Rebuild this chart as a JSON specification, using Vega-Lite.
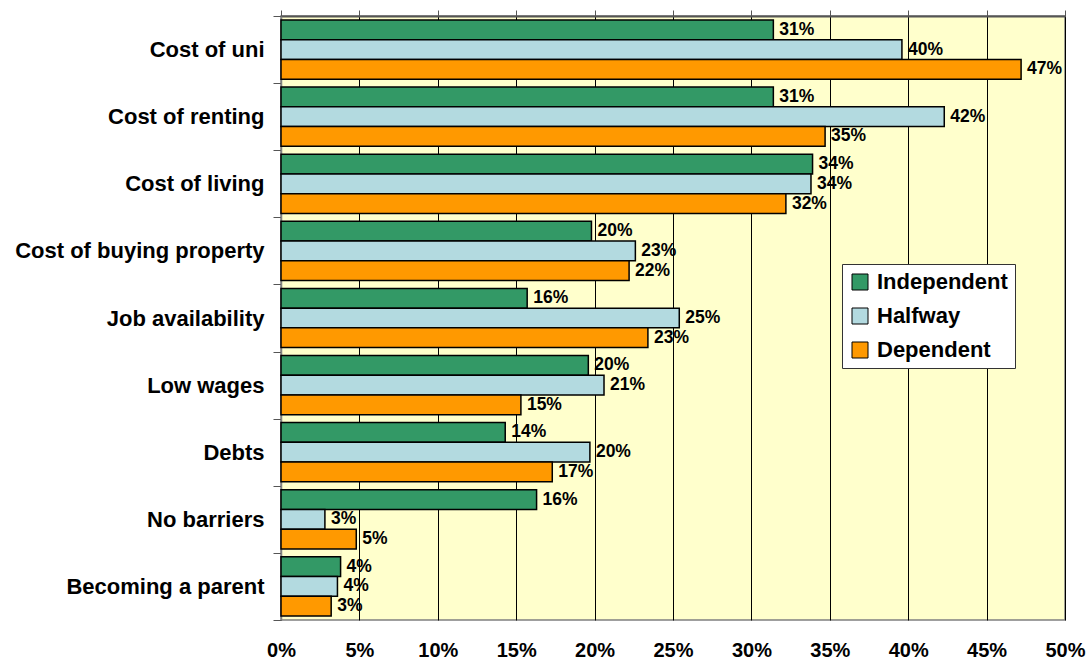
{
  "$schema": "https://vega.github.io/schema/vega-lite/v6.json",
  "width": 784,
  "height": 604,
  "autosize": {"type": "none"},
  "padding": {"left": 281, "top": 16, "right": 25, "bottom": 43},
  "background": "white",
  "config": {
    "view": {"fill": "#FFFFCC", "stroke": "#808080", "strokeWidth": 1.5},
    "font": "Liberation Sans"
  },
  "data": {
    "values": [
      {"barrier": "Cost of uni", "group": "Independent", "value": 0.314},
      {"barrier": "Cost of uni", "group": "Halfway", "value": 0.396},
      {"barrier": "Cost of uni", "group": "Dependent", "value": 0.472},
      {"barrier": "Cost of renting", "group": "Independent", "value": 0.314},
      {"barrier": "Cost of renting", "group": "Halfway", "value": 0.423},
      {"barrier": "Cost of renting", "group": "Dependent", "value": 0.347},
      {"barrier": "Cost of living", "group": "Independent", "value": 0.339},
      {"barrier": "Cost of living", "group": "Halfway", "value": 0.338},
      {"barrier": "Cost of living", "group": "Dependent", "value": 0.322},
      {"barrier": "Cost of buying property", "group": "Independent", "value": 0.198},
      {"barrier": "Cost of buying property", "group": "Halfway", "value": 0.226},
      {"barrier": "Cost of buying property", "group": "Dependent", "value": 0.222},
      {"barrier": "Job availability", "group": "Independent", "value": 0.157},
      {"barrier": "Job availability", "group": "Halfway", "value": 0.254},
      {"barrier": "Job availability", "group": "Dependent", "value": 0.234},
      {"barrier": "Low wages", "group": "Independent", "value": 0.196},
      {"barrier": "Low wages", "group": "Halfway", "value": 0.206},
      {"barrier": "Low wages", "group": "Dependent", "value": 0.153},
      {"barrier": "Debts", "group": "Independent", "value": 0.143},
      {"barrier": "Debts", "group": "Halfway", "value": 0.197},
      {"barrier": "Debts", "group": "Dependent", "value": 0.173},
      {"barrier": "No barriers", "group": "Independent", "value": 0.163},
      {"barrier": "No barriers", "group": "Halfway", "value": 0.028},
      {"barrier": "No barriers", "group": "Dependent", "value": 0.048},
      {"barrier": "Becoming a parent", "group": "Independent", "value": 0.038},
      {"barrier": "Becoming a parent", "group": "Halfway", "value": 0.036},
      {"barrier": "Becoming a parent", "group": "Dependent", "value": 0.032}
    ]
  },
  "encoding": {
    "y": {
      "field": "barrier",
      "type": "nominal",
      "sort": ["Cost of uni", "Cost of renting", "Cost of living", "Cost of buying property", "Job availability", "Low wages", "Debts", "No barriers", "Becoming a parent"],
      "scale": {"paddingInner": 0, "paddingOuter": 0},
      "axis": {
        "title": null,
        "tickBand": "extent",
        "tickSize": 8,
        "tickColor": "#555555",
        "domainColor": "#808080",
        "domainWidth": 1.5,
        "labelFontSize": 22,
        "labelFontWeight": "bold",
        "labelColor": "black",
        "labelPadding": 9,
        "labelLimit": 300
      }
    },
    "yOffset": {
      "field": "group",
      "type": "nominal",
      "sort": ["Independent", "Halfway", "Dependent"],
      "scale": {"paddingInner": 0, "paddingOuter": 0.2}
    },
    "x": {
      "field": "value",
      "type": "quantitative",
      "scale": {"domain": [0, 0.5], "nice": false}
    }
  },
  "layer": [
    {
      "mark": {"type": "bar", "stroke": "black", "strokeWidth": 1.5},
      "encoding": {
        "x": {
          "field": "value",
          "type": "quantitative",
          "scale": {"domain": [0, 0.5], "nice": false},
          "axis": {
            "orient": "top",
            "title": null,
            "labels": false,
            "values": [0, 0.05, 0.1, 0.15, 0.2, 0.25, 0.3, 0.35, 0.4, 0.45, 0.5],
            "tickSize": 6,
            "tickColor": "#555555",
            "domainColor": "#555555",
            "domainWidth": 2,
            "grid": true,
            "gridColor": "black",
            "gridWidth": 1,
            "gridOpacity": 1
          }
        },
        "color": {
          "field": "group",
          "type": "nominal",
          "scale": {"domain": ["Independent", "Halfway", "Dependent"], "range": ["#339966", "#B3DAE0", "#FF9900"]},
          "legend": {
            "title": null,
            "orient": "none",
            "legendX": 561,
            "legendY": 248,
            "fillColor": "white",
            "strokeColor": "#333333",
            "padding": 7,
            "symbolType": "square",
            "symbolSize": 256,
            "symbolStrokeColor": "black",
            "symbolStrokeWidth": 1,
            "symbolOpacity": 1,
            "labelFontSize": 22,
            "labelFontWeight": "bold",
            "labelColor": "black",
            "labelOffset": 6,
            "rowPadding": 12
          }
        }
      }
    },
    {
      "mark": {"type": "text", "align": "left", "baseline": "middle", "dx": 6, "fontSize": 17.5, "fontWeight": "bold", "color": "black"},
      "encoding": {
        "x": {
          "field": "value",
          "type": "quantitative",
          "scale": {"domain": [0, 0.5], "nice": false},
          "axis": {
            "orient": "bottom",
            "title": null,
            "values": [0, 0.05, 0.1, 0.15, 0.2, 0.25, 0.3, 0.35, 0.4, 0.45, 0.5],
            "format": ".0%",
            "ticks": false,
            "domain": false,
            "grid": false,
            "labelFlush": false,
            "labelOverlap": false,
            "labelFontSize": 20,
            "labelFontWeight": "bold",
            "labelColor": "black",
            "labelPadding": 20
          }
        },
        "text": {"field": "value", "type": "quantitative", "format": ".0%"}
      }
    }
  ],
  "resolve": {"axis": {"x": "independent"}}
}
